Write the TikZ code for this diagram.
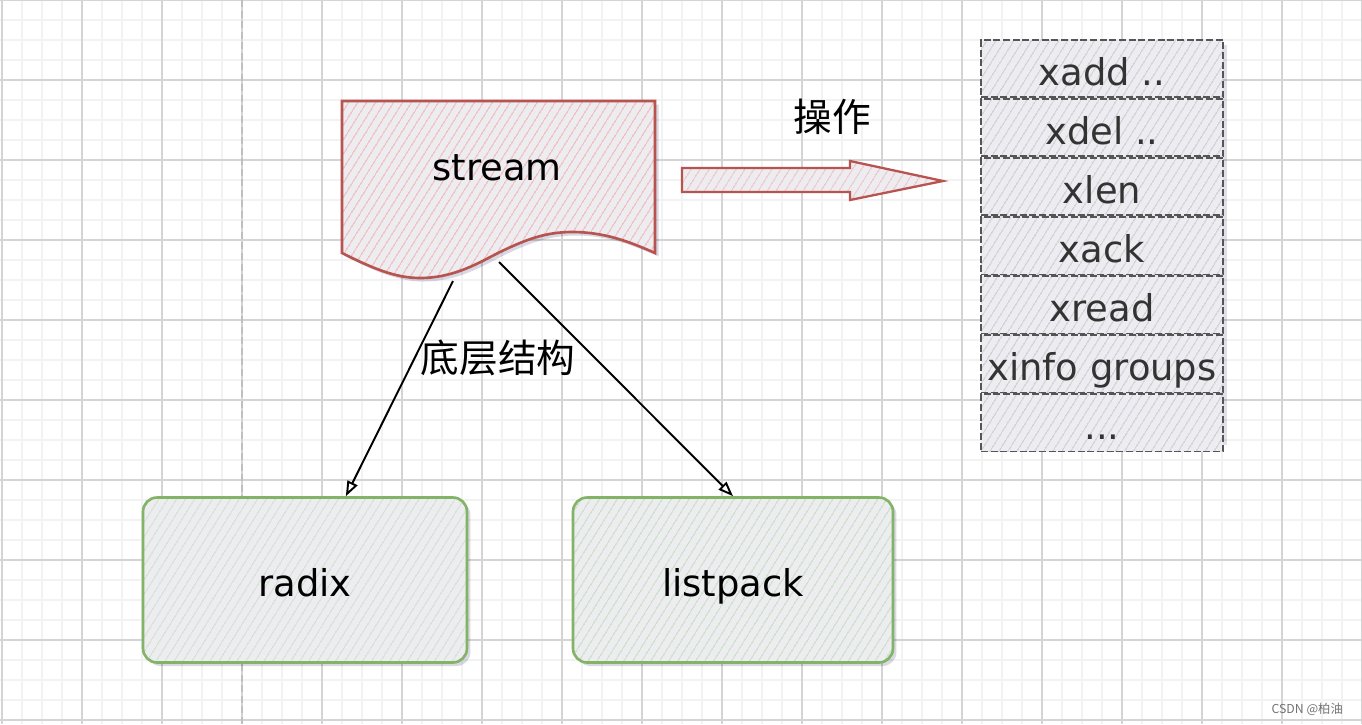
\documentclass[tikz,border=0pt]{standalone}
\usepackage{fontspec}
\setmainfont{DejaVu Sans}
\newfontfamily\cjk{Noto Sans CJK SC}
\usetikzlibrary{arrows.meta,positioning,patterns.meta,shadows}

\definecolor{gridminor}{HTML}{F2F2F2}
\definecolor{gridmajor}{HTML}{D4D4D4}
\definecolor{redline}{HTML}{B85450}
\definecolor{redhatch}{HTML}{F0AFAB}
\definecolor{greenline}{HTML}{82B366}
\definecolor{greenhatch}{HTML}{BFDDB8}
\definecolor{grayline}{HTML}{555555}
\definecolor{grayhatch}{HTML}{BDBDC4}
\definecolor{basefill}{HTML}{ECECF1}
\definecolor{listtext}{HTML}{333333}

\tikzset{
  bigtext/.style={font=\fontsize{21pt}{25pt}\selectfont, text height=20pt, text depth=0.7pt},
  cjktext/.style={font=\cjk\fontsize{22pt}{26pt}\selectfont},
  softshadow/.style={drop shadow={opacity=0.15, fill=black!70!blue, shadow xshift=2pt, shadow yshift=-2pt}},
  hatched/.style={preaction={fill=basefill}, pattern={Lines[angle=58,distance=4pt,line width=0.6pt]}, pattern color=#1},
  greenbox/.style={bigtext, draw=greenline, line width=1.5pt, rounded corners=0.28cm,
    minimum height=3.3cm, softshadow, hatched=greenhatch},
  listrow/.style={bigtext, text=listtext, draw=grayline, line width=1pt,
    dash pattern=on 4pt off 1.5pt, minimum width=4.84cm, minimum height=1.146cm,
    inner sep=0pt, hatched=grayhatch},
  link/.style={-{Triangle[open,length=0.3cm,width=0.22cm]}, line width=1.1pt},
}

\begin{document}
\begin{tikzpicture}[x=0.02cm, y=-0.02cm]
  \useasboundingbox (0,0) rectangle (1362,724);
  \fill[white] (0,0) rectangle (1362,724);

  % grid
  \foreach \x in {2,22,...,1362} \draw[gridminor, line width=0.6pt] (\x,0) -- (\x,724);
  \foreach \y in {0,20,...,720} \draw[gridminor, line width=0.6pt] (0,\y) -- (1362,\y);
  \foreach \x in {2,82,...,1362} \draw[gridmajor, line width=0.6pt] (\x,0) -- (\x,724);
  \foreach \y in {0,80,...,720} \draw[gridmajor, line width=0.6pt] (0,\y) -- (1362,\y);
  \draw[black!25, dash pattern=on 4pt off 2pt, line width=0.8pt] (242,0) -- (242,724);

  % stream (document shape)
  \draw[draw=redline, line width=1.5pt, softshadow, hatched=redhatch]
    (342,101) -- (655,101) -- (655,253)
    .. controls (630,242) and (605,232) .. (572,232)
    .. controls (545,232) and (525,240) .. (500,252)
    .. controls (480,262) and (455,278) .. (420,278)
    .. controls (395,278) and (372,268) .. (342,253) -- cycle;
  \node[bigtext] (stream) at (497,164) {stream};
  \coordinate (s1) at (453,281);
  \coordinate (s2) at (499,262);

  % operations arrow
  \draw[draw=redline, line width=1.3pt, hatched=redhatch]
    (682,168) -- (850,168) -- (850,161) -- (943,181) -- (850,200) -- (850,192) -- (682,192) -- cycle;
  \node[cjktext] (ops) at (832,117) {操作};

  % command list
  \fill[black!70!blue, opacity=0.12] (985,45) rectangle (1227,445);
  \node[listrow] (l1) at (1102,68.6) {xadd ..};
  \node[listrow, below=0pt of l1] (l2) {xdel ..};
  \node[listrow, below=0pt of l2] (l3) {xlen};
  \node[listrow, below=0pt of l3] (l4) {xack};
  \node[listrow, below=0pt of l4] (l5) {xread};
  \node[listrow, below=0pt of l5] (l6) {xinfo groups};
  \node[listrow, below=0pt of l6] (l7) {...};

  % underlying structures
  \node[greenbox, minimum width=6.48cm] (radix) at (305,580) {radix};
  \node[greenbox, minimum width=6.4cm] (listpack) at (733,580) {listpack};

  \draw[link] (s1) -- (radix.64);
  \draw[link] (s2) -- (listpack.north);
  \node[cjktext] (under) at (498,358) {底层结构};

  \node[font=\cjk\fontsize{7pt}{8pt}\selectfont, text=black!55, anchor=east] (mark) at (1349,709) {CSDN @柏油};
\end{tikzpicture}
\end{document}
